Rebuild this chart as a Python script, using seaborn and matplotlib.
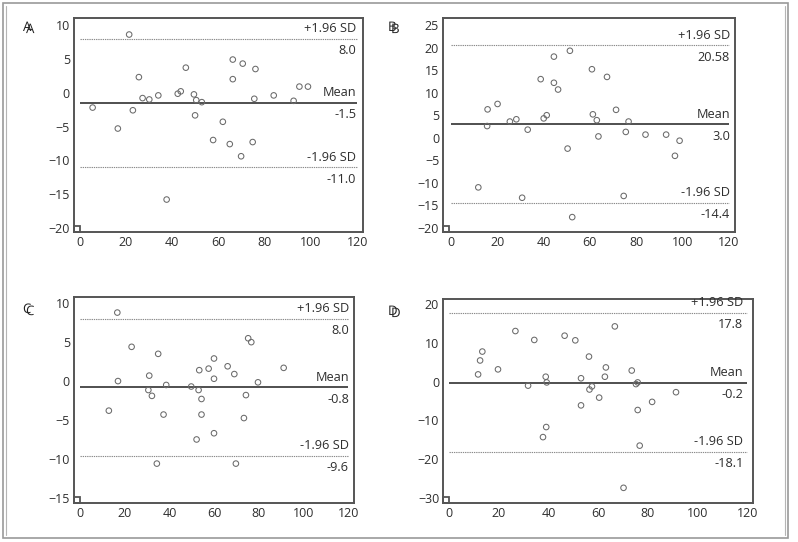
import matplotlib
matplotlib.use("Agg")
import matplotlib.pyplot as plt
import matplotlib.patheffects as pe
import seaborn as sns
import numpy as np
from matplotlib.patches import Rectangle
from matplotlib.lines import Line2D
from matplotlib.ticker import MultipleLocator

# ---------------- data ----------------
A_x = [5.6, 16.5, 21.4, 23.0, 25.6, 27.2, 30.1, 34.0, 37.6, 42.4, 43.7, 45.9, 49.4, 49.9, 50.4,
       52.8, 57.7, 61.9, 64.9, 66.2, 66.2, 69.8, 70.5, 74.8, 75.5, 76.0, 83.9, 92.5, 95.0, 98.7]
A_y = [-2.2, -5.3, 8.6, -2.6, 2.3, -0.8, -1.0, -0.4, -15.8, -0.15, 0.2, 3.7, -0.25, -3.35, -1.1,
       -1.4, -7.0, -4.3, -7.6, 4.9, 2.0, -9.4, 4.3, -7.3, -0.9, 3.5, -0.4, -1.2, 0.9, 0.9]

B_x = [11.9, 15.9, 15.7, 20.2, 25.5, 28.3, 33.2, 30.8, 38.8, 40.1, 41.4, 44.5, 44.5, 46.3, 51.4,
       50.4, 52.4, 60.9, 67.4, 71.3, 61.3, 63.0, 76.7, 63.7, 75.5, 84.0, 92.9, 98.7, 96.7, 74.6]
B_y = [-11.0, 6.3, 2.6, 7.5, 3.6, 4.1, 1.8, -13.3, 13.0, 4.3, 5.0, 18.0, 12.2, 10.7, 19.3,
       -2.4, -17.6, 15.2, 13.5, 6.2, 5.2, 3.9, 3.6, 0.3, 1.3, 0.7, 0.7, -0.65, -4.0, -12.9]

C_x = [16.6, 23.0, 12.8, 16.9, 34.9, 30.9, 30.5, 32.1, 38.5, 37.3, 34.3, 49.7, 53.0, 53.3, 54.3,
       54.3, 52.1, 57.5, 59.9, 59.9, 59.9, 66.0, 69.0, 75.2, 76.6, 79.6, 91.1, 74.2, 73.3, 69.7]
C_y = [8.8, 4.4, -3.8, 0.0, 3.5, 0.7, -1.15, -1.9, -0.5, -4.3, -10.6, -0.7, -1.15, 1.4, -2.3,
       -4.3, -7.5, 1.6, 2.9, 0.3, -6.7, 1.9, 0.9, 5.5, 5.0, -0.16, 1.7, -1.8, -4.75, -10.6]

D_x = [11.7, 12.5, 13.4, 19.7, 26.7, 31.8, 34.3, 38.9, 39.3, 39.1, 37.8, 46.5, 50.8, 53.1, 53.1,
       56.3, 56.5, 57.5, 60.4, 66.7, 63.1, 62.7, 73.5, 75.9, 75.2, 91.3, 81.7, 75.9, 76.7, 70.2]
D_y = [1.9, 5.5, 7.8, 3.2, 13.1, -1.0, 10.8, 1.3, -0.17, -11.7, -14.3, 11.9, 10.7, 0.9, -6.1,
       6.5, -2.0, -1.2, -4.1, 14.3, 3.7, 1.3, 2.9, -0.17, -0.6, -2.7, -5.2, -7.3, -16.5, -27.4]

panel_letters = ["A", "B", "C", "D"]
upper_sd = [8.0, 20.58, 8.0, 17.8]
mean_diff = [-1.5, 3.0, -0.8, -0.2]
lower_sd = [-11.0, -14.4, -9.6, -18.1]
upper_lbl = ["8.0", "20.58", "8.0", "17.8"]
mean_lbl = ["-1.5", "3.0", "-0.8", "-0.2"]
lower_lbl = ["-11.0", "-14.4", "-9.6", "-18.1"]
xs = [A_x, B_x, C_x, D_x]
ys = [A_y, B_y, C_y, D_y]

# ---------------- layout / style ----------------
sns.set_style("white")
plt.rcParams['font.family'] = ['Open Sans', 'DejaVu Sans']

W, H = 798, 542
fig = plt.figure(figsize=(W / 100, H / 100), dpi=100)

def fr(l, t, r, b):
    return [l / W, 1 - b / H, (r - l) / W, (b - t) / H]

rects = [fr(74, 18.3, 363, 232), fr(443.3, 18.3, 735, 232),
         fr(74, 297, 354, 503.3), fr(443.3, 299.3, 753.3, 503.3)]
xlims = [(-2.45, 122.5), (-3.2, 122.6), (-2.8, 122.6), (-2.3, 122.4)]
ylims = [(-20.6, 11.0), (-20.9, 26.5), (-15.7, 10.8), (-31.4, 21.3)]
ymajor = [5, 5, 5, 10]
yminor = [None, None, None, 5]
letter_pos = [(23, 21), (388, 21), (23, 303), (388, 305)]
text_x = [0.976, 0.983, 0.982, 0.968]

spine_c = "#555555"
txt_c = "#2e2e2e"
pt_c = "#6a6a6a"

for i in range(4):
    ax = fig.add_axes(rects[i])
    sns.scatterplot(x=xs[i], y=ys[i], ax=ax, s=16, marker='o',
                    facecolor='none', edgecolor=pt_c, linewidth=0.75, zorder=3)
    ax.set_xlim(*xlims[i])
    ax.set_ylim(*ylims[i])

    ax.hlines(upper_sd[i], 0, 120, colors="#8a8a8a", linestyles=(0, (1.2, 0.8)), linewidth=0.8)
    ax.hlines(lower_sd[i], 0, 120, colors="#8a8a8a", linestyles=(0, (1.2, 0.8)), linewidth=0.8)
    ax.hlines(mean_diff[i], 0, 120, colors="#4f4f4f", linewidth=1.4)

    tr = ax.get_yaxis_transform()
    for val, top_txt, bot_txt in [(upper_sd[i], "+1.96 SD", upper_lbl[i]),
                                  (mean_diff[i], "Mean", mean_lbl[i]),
                                  (lower_sd[i], "-1.96 SD", lower_lbl[i])]:
        ax.annotate(top_txt, xy=(text_x[i], val), xycoords=tr, xytext=(0, 2.5),
                    textcoords='offset points', ha='right', va='bottom',
                    fontsize=9.2, color=txt_c)
        ax.annotate(bot_txt, xy=(text_x[i], val), xycoords=tr, xytext=(0, -4),
                    textcoords='offset points', ha='right', va='top',
                    fontsize=9.2, color=txt_c)

    ax.xaxis.set_major_locator(MultipleLocator(20))
    ax.xaxis.set_minor_locator(MultipleLocator(10))
    ax.yaxis.set_major_locator(MultipleLocator(ymajor[i]))
    if yminor[i]:
        ax.yaxis.set_minor_locator(MultipleLocator(yminor[i]))
    ax.tick_params(axis='both', which='major', direction='in', length=4.5, width=0.9,
                   color=spine_c, labelsize=9, labelcolor=txt_c, pad=3)
    ax.tick_params(axis='both', which='minor', direction='in', length=2.5, width=0.8,
                   color=spine_c)
    ax.tick_params(axis='x', which='both', top=False)
    ax.tick_params(axis='y', which='both', right=False)
    for sp in ax.spines.values():
        sp.set_color(spine_c)
        sp.set_linewidth(1.4)

    # small square at origin corner
    bb = ax.get_position()
    wfrac = 6 / (bb.width * W)
    hfrac = 6 / (bb.height * H)
    ax.add_patch(Rectangle((0, 0), wfrac, hfrac, transform=ax.transAxes,
                           fill=False, edgecolor=spine_c, linewidth=1.3, clip_on=False))

    # doubled panel letter (drawn once, with an offset copy as shadow)
    lx, ly = letter_pos[i]
    fig.text(lx / W, 1 - ly / H, panel_letters[i], ha='left', va='top',
             fontsize=9.5, color="#222222",
             path_effects=[pe.withSimplePatchShadow(offset=(2.2, -1.5),
                                                    shadow_rgbFace="#222222", alpha=1.0)])

# outer frame
fig.patches.append(Rectangle((3 / W, 1 - 538 / H), (788 - 3) / W, (538 - 3) / H,
                             transform=fig.transFigure, fill=False,
                             edgecolor="#9a9a9a", linewidth=1.2))
for xx in [6, 785]:
    fig.lines.append(Line2D([xx / W, xx / W], [1 - 535 / H, 1 - 6 / H],
                            transform=fig.transFigure, color="#b5b5b5", linewidth=0.8))

fig.savefig("out.png", dpi=100)
